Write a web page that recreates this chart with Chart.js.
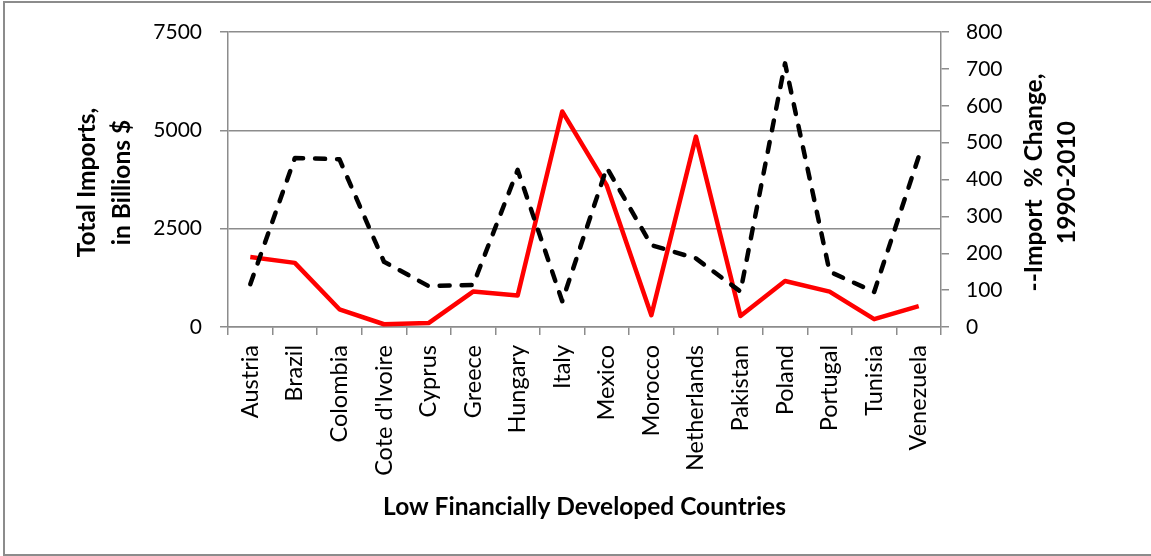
<!DOCTYPE html>
<html>
<head>
    <title>Low Financially Developed Countries - Imports</title>
    <script src="https://cdn.jsdelivr.net/npm/chart.js"></script>
    <style>
        html, body { margin: 0; padding: 0; background: #fff; }
        #wrap { width: 1151px; height: 556px; }
    </style>
</head>
<body>
    <div id="wrap"><canvas id="importsChart"></canvas></div>

    <script>
        const countries = ['Austria', 'Brazil', 'Colombia', "Cote d'Ivoire", 'Cyprus', 'Greece', 'Hungary', 'Italy',
            'Mexico', 'Morocco', 'Netherlands', 'Pakistan', 'Poland', 'Portugal', 'Tunisia', 'Venezuela'];
        const totalImports = [1780, 1630, 450, 70, 100, 900, 800, 5480, 3600, 300, 4840, 280, 1170, 900, 200, 530];
        const importChange = [116, 458, 455, 177, 111, 114, 426, 70, 432, 222, 186, 96, 715, 150, 95, 462];
        const leftTicks = [0, 2500, 5000, 7500];
        const rightTicks = [0, 100, 200, 300, 400, 500, 600, 700, 800];

        const gray = '#8c8c8c';
        const numFont = { family: 'Lato', size: 21 };
        const catFont = { family: 'Lato', size: 23.5 };

        // axis titles and the outer frame, drawn by hand like the Excel export
        const titlesPlugin = {
            id: 'titles',
            beforeDraw(chart) {
                const ctx = chart.ctx;
                ctx.save();
                ctx.strokeStyle = gray;
                ctx.lineWidth = 2;
                ctx.strokeRect(4, 2, 1170, 553);
                ctx.restore();
            },
            afterDraw(chart) {
                const ctx = chart.ctx;
                const a = chart.chartArea;
                const midY = (a.top + a.bottom) / 2 + 3;
                ctx.save();
                ctx.fillStyle = '#000';
                ctx.font = 'bold 24.5px Lato';
                ctx.textAlign = 'center';
                ctx.textBaseline = 'middle';

                const rotated = (lines, x0, gap) => {
                    lines.forEach((t, i) => {
                        ctx.save();
                        ctx.translate(x0 + i * gap, midY);
                        ctx.rotate(-Math.PI / 2);
                        ctx.fillText(t, 0, 0);
                        ctx.restore();
                    });
                };
                rotated(['Total Imports,', 'in Billions $'], 87, 35);
                rotated(['--Import  % Change,', '1990-2010'], 1034, 33);

                ctx.fillText('Low Financially Developed Countries', (a.left + a.right) / 2, 507);
                ctx.restore();
            }
        };

        new Chart(document.getElementById('importsChart'), {
            type: 'line',
            data: {
                labels: countries,
                datasets: [{
                    label: 'Import % Change, 1990-2010',
                    data: importChange,
                    yAxisID: 'y1',
                    borderColor: '#000',
                    borderWidth: 4.5,
                    borderDash: [10, 12],
                    borderCapStyle: 'round',
                    borderJoinStyle: 'round',
                    pointRadius: 0,
                    tension: 0,
                    fill: false,
                    order: 0
                }, {
                    label: 'Total Imports, in Billions $',
                    data: totalImports,
                    yAxisID: 'y',
                    borderColor: '#ff0000',
                    borderWidth: 4.5,
                    borderJoinStyle: 'round',
                    pointRadius: 0,
                    tension: 0,
                    fill: false,
                    order: 1
                }]
            },
            options: {
                responsive: true,
                maintainAspectRatio: false,
                animation: false,
                layout: { padding: { top: 32, left: 0, right: 0, bottom: 0 } },
                plugins: {
                    legend: { display: false },
                    tooltip: { enabled: false }
                },
                scales: {
                    x: {
                        offset: true,
                        afterFit: s => { s.height = 229; },
                        grid: { color: gray, lineWidth: 1.5, drawOnChartArea: false, tickLength: 8, offset: true },
                        border: { color: gray, width: 1.5 },
                        ticks: { color: '#000', font: catFont, minRotation: 90, maxRotation: 90, padding: 10, autoSkip: false }
                    },
                    y: {
                        position: 'left',
                        min: 0,
                        max: 7500,
                        afterFit: s => { s.width = 228; },
                        afterBuildTicks: s => { s.ticks = leftTicks.map(v => ({ value: v })); },
                        grid: { color: gray, lineWidth: 1.5, tickLength: 8 },
                        border: { color: gray, width: 1.5 },
                        ticks: { color: '#000', font: numFont, padding: 18, callback: v => String(v) }
                    },
                    y1: {
                        position: 'right',
                        min: 0,
                        max: 800,
                        afterFit: s => { s.width = 210; },
                        afterBuildTicks: s => { s.ticks = rightTicks.map(v => ({ value: v })); },
                        grid: { color: gray, lineWidth: 1.5, drawOnChartArea: false, tickLength: 8 },
                        border: { color: gray, width: 1.5 },
                        ticks: { color: '#000', font: numFont, padding: 17, callback: v => String(v) }
                    }
                }
            },
            plugins: [titlesPlugin]
        });
    </script>
</body>
</html>
